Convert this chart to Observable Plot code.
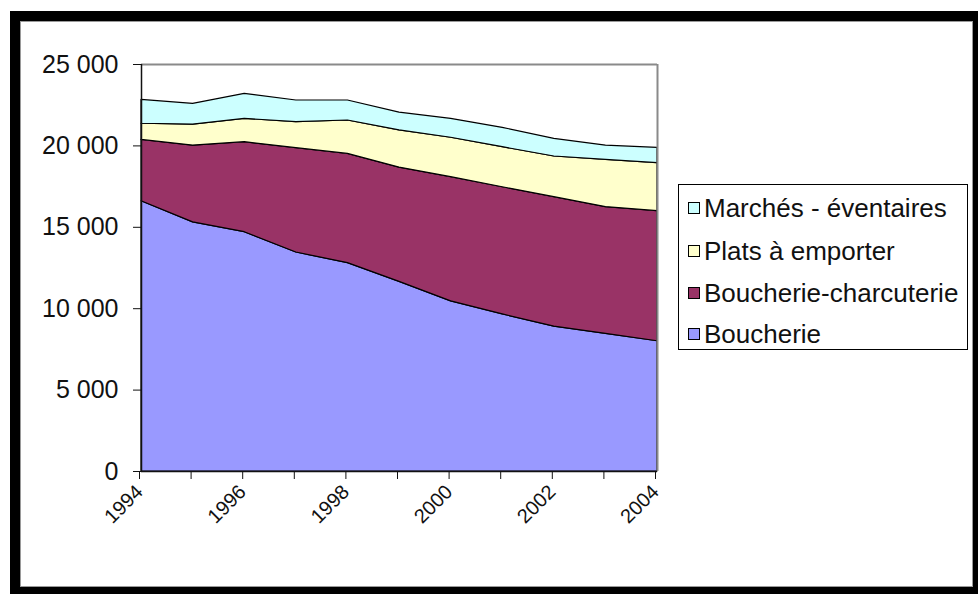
<!DOCTYPE html>
<html><head><meta charset="utf-8">
<script src="https://cdn.jsdelivr.net/npm/d3@7"></script>
<script src="https://cdn.jsdelivr.net/npm/@observablehq/plot@0.6"></script>
<style>
html,body{margin:0;padding:0;background:#fff;width:978px;height:594px;overflow:hidden;font-family:"Liberation Sans",Arial,sans-serif;}
#chart{position:absolute;left:0;top:0;}
#frame{position:absolute;left:10px;top:11px;width:973px;height:586px;box-sizing:border-box;border:10px solid #000;pointer-events:none;}
#frame .in{position:absolute;left:0;top:0;right:0;bottom:0;border:1px solid #9a9a9a;}
#legend{position:absolute;left:678px;top:184px;width:290px;height:166px;box-sizing:border-box;border:1px solid #000;background:#fff;}
.item{position:absolute;left:9px;height:30px;display:flex;align-items:center;font-size:26px;line-height:1;color:#111;white-space:nowrap;}
.sw{width:10px;height:10px;border:1px solid #000;margin-right:4px;flex:none;}
</style></head><body>
<div id="chart"></div>
<div id="legend"></div>
<div id="frame"><div class="in"></div></div>
<script>
const years = [1994,1995,1996,1997,1998,1999,2000,2001,2002,2003,2004];
const seriesNames = ["Boucherie","Boucherie-charcuterie","Plats à emporter","Marchés - éventaires"];
const boucherie = [16600,15300,14700,13450,12800,11650,10450,9650,8900,8450,8000];
const boucherieCharcuterie = [3770,4720,5530,6410,6710,7020,7630,7810,7950,7790,7990];
const platsAEmporter = [990,1290,1430,1600,2050,2280,2420,2460,2500,2900,2950];
const marchesEventaires = [1470,1270,1540,1330,1230,1090,1160,1190,1080,880,940];
const colors = ["#9999FF","#993366","#FFFFCC","#CCFFFF"];
const yTicks = [0,5000,10000,15000,20000,25000];
const xLabelYears = [1994,1996,1998,2000,2002,2004];

const values = [boucherie, boucherieCharcuterie, platsAEmporter, marchesEventaires];
const data = [];
seriesNames.forEach((s, i) => years.forEach((y, j) => data.push({year: y, series: s, value: values[i][j]})));

const fmt = d => d3.format(",")(d).replace(/,/g, " ");

const plot = Plot.plot({
  width: 978, height: 594,
  marginLeft: 141, marginRight: 321, marginTop: 64, marginBottom: 123,
  style: {fontFamily: "'Liberation Sans', Arial, sans-serif", fontSize: "25px", color: "#111", background: "transparent", overflow: "visible"},
  x: {domain: [1994, 2004]},
  y: {domain: [0, 25000]},
  color: {domain: seriesNames, range: colors},
  marks: [
    Plot.areaY(data, {x: "year", y: "value", fill: "series", z: "series", order: seriesNames, stroke: "#000", strokeWidth: 1.2}),
    Plot.ruleY([25000], {stroke: "#8a8a8a", strokeWidth: 2}),
    Plot.ruleX([2004], {stroke: "#8a8a8a", strokeWidth: 2}),
    Plot.axisY({ticks: yTicks, tickFormat: fmt, tickSize: 8, tickPadding: 15, label: null, stroke: "#111"}),
    Plot.axisX({ticks: years, tickFormat: d => xLabelYears.includes(d) ? String(d) : "", tickSize: 8, tickPadding: 9, tickRotate: -45, fontSize: 20, dx: -2, label: null, stroke: "#111"}),
    Plot.ruleY([0], {stroke: "#111", strokeWidth: 1.5}),
    Plot.ruleX([1994], {stroke: "#111", strokeWidth: 1.5})
  ]
});
document.getElementById("chart").appendChild(plot);

const legend = document.getElementById("legend");
const order = [3, 2, 1, 0];
const rowCenters = [23, 66, 108, 149];
order.forEach((k, r) => {
  const it = document.createElement("div");
  it.className = "item";
  it.style.top = (rowCenters[r] - 15) + "px";
  const sw = document.createElement("div");
  sw.className = "sw";
  sw.style.background = colors[k];
  const tx = document.createElement("span");
  tx.textContent = seriesNames[k];
  it.appendChild(sw); it.appendChild(tx);
  legend.appendChild(it);
});
</script>
</body></html>
